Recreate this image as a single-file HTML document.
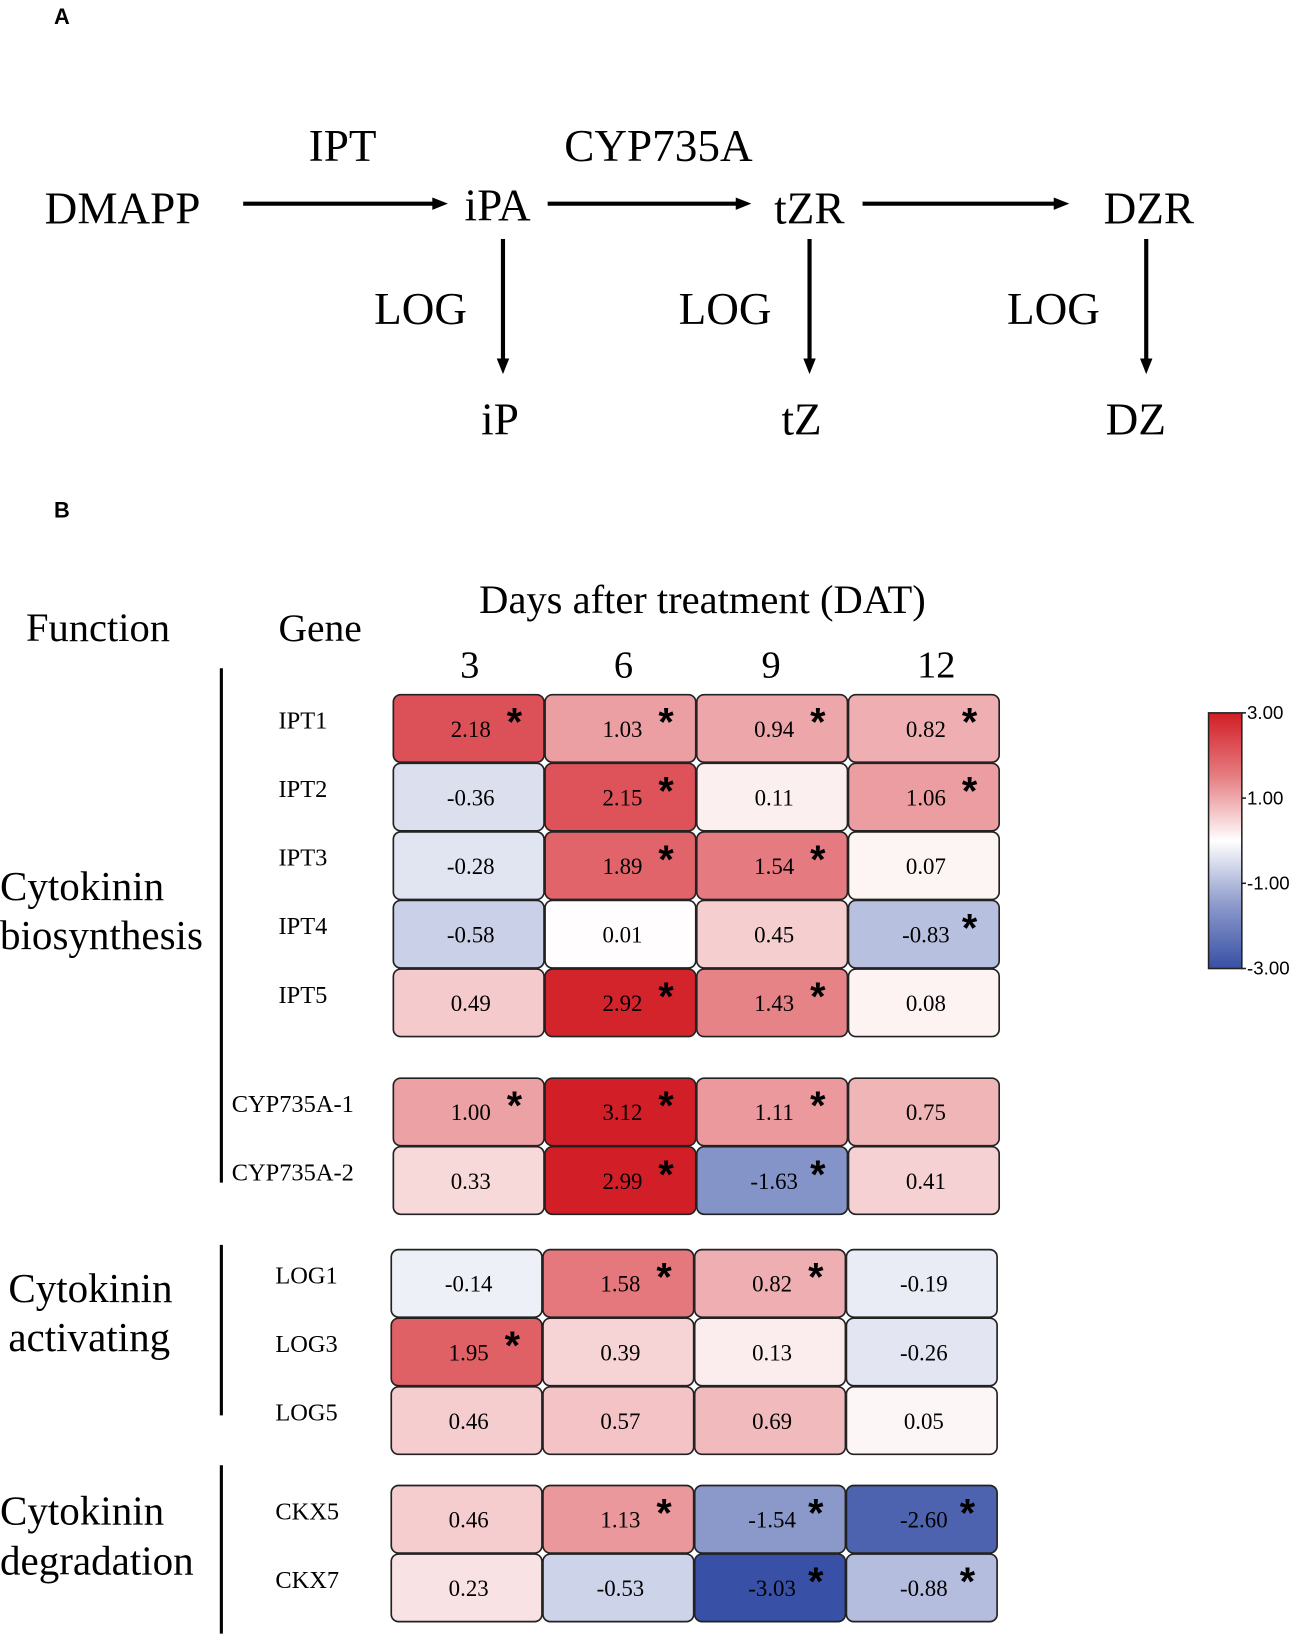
<!DOCTYPE html>
<html><head><meta charset="utf-8"><style>
html,body{margin:0;padding:0;background:#fff;}
svg{display:block;}
.serif{font-family:"Liberation Serif",serif;}
</style></head><body>
<svg id="fig" width="1299" height="1634" viewBox="0 0 1250 1572.4" xmlns="http://www.w3.org/2000/svg">
<defs></defs>
<g class="serif" font-size="43.5" fill="#000">
<text x="52" y="23" font-family="Liberation Sans, sans-serif" font-weight="bold" font-size="21">A</text>
<text x="43" y="215">DMAPP</text>
<text x="297" y="155">IPT</text>
<text x="447" y="212">iPA</text>
<text x="543" y="155">CYP735A</text>
<text x="745" y="215">tZR</text>
<text x="1062" y="215">DZR</text>
<text x="360" y="312">LOG</text>
<text x="653" y="312">LOG</text>
<text x="969" y="312">LOG</text>
<text x="463" y="418">iP</text>
<text x="752" y="418">tZ</text>
<text x="1064" y="418">DZ</text>
<g stroke="#000" stroke-width="4">
<line x1="234" y1="196" x2="420" y2="196"/>
<line x1="527" y1="196" x2="712" y2="196"/>
<line x1="830" y1="196" x2="1018" y2="196"/>
<line x1="484" y1="230" x2="484" y2="348"/>
<line x1="779" y1="230" x2="779" y2="348"/>
<line x1="1103" y1="230" x2="1103" y2="348"/>
</g>
<path d="M416,190 L431,196 L416,202z M708,190 L723,196 L708,202z M1014,190 L1029,196 L1014,202z M478,345 L484,360 L490,345z M773,345 L779,360 L785,345z M1097,345 L1103,360 L1109,345z"/>
</g>
<g class="serif" fill="#000">
<text x="52" y="498" font-family="Liberation Sans, sans-serif" font-weight="bold" font-size="21">B</text>
<text x="25" y="617" font-size="39">Function</text>
<text x="268" y="617" font-size="38">Gene</text>
<text x="676" y="590" font-size="39" text-anchor="middle">Days after treatment (DAT)</text>
<g font-size="39.5">
<text x="0" y="866"><tspan x="0">Cytokinin</tspan><tspan x="0" y="913">biosynthesis</tspan></text>
<text x="8" y="1253"><tspan x="8">Cytokinin</tspan><tspan x="8" y="1300">activating</tspan></text>
<text x="0" y="1467"><tspan x="0">Cytokinin</tspan><tspan x="0" y="1515">degradation</tspan></text>
</g>
<g stroke="#000" stroke-width="3">
<line x1="213" y1="643" x2="213" y2="1138"/>
<line x1="213" y1="1198" x2="213" y2="1362"/>
<line x1="213" y1="1410" x2="213" y2="1572"/>
</g>
<g id="heat"></g>
<g id="cbar"></g>
</g>
</svg>
<script>
const days = ["3","6","9","12"];
const genes = ["IPT1","IPT2","IPT3","IPT4","IPT5","CYP735A-1","CYP735A-2","LOG1","LOG3","LOG5","CKX5","CKX7"];
const values = [
 [2.18,1.03,0.94,0.82],
 [-0.36,2.15,0.11,1.06],
 [-0.28,1.89,1.54,0.07],
 [-0.58,0.01,0.45,-0.83],
 [0.49,2.92,1.43,0.08],
 [1.00,3.12,1.11,0.75],
 [0.33,2.99,-1.63,0.41],
 [-0.14,1.58,0.82,-0.19],
 [1.95,0.39,0.13,-0.26],
 [0.46,0.57,0.69,0.05],
 [0.46,1.13,-1.54,-2.60],
 [0.23,-0.53,-3.03,-0.88]
];
const signif = [
 [1,1,1,1],[0,1,0,1],[0,1,1,0],[0,0,0,1],[0,1,1,0],
 [1,1,1,0],[0,1,1,0],[0,1,1,0],[1,0,0,0],[0,0,0,0],
 [0,1,1,1],[0,0,1,1]
];
const cbarTicks = [3,1,-1,-3];

const NS="http://www.w3.org/2000/svg";
const rowTops=[668,734,800,866,932,1037,1103,1202,1268,1334,1429,1495];
const groupX=[378,378,378,378,378,378,378,376,376,376,376,376];
const geneX=[268,268,268,268,268,223,223,265,265,265,265,265];
const cellW=146, cellH=66;
const colCenters=[452,600,742,901];
function color(v){
  const red=[210,30,38], blue=[56,80,165], w=[255,255,255];
  let t=Math.max(-1,Math.min(1,v/3));
  const c=t>=0?red:blue; t=Math.pow(Math.abs(t),0.8);
  const r=w.map((x,i)=>Math.round(x+(c[i]-x)*t));
  return `rgb(${r[0]},${r[1]},${r[2]})`;
}
function mk(tag,attrs,parent){const e=document.createElementNS(NS,tag);for(const k in attrs)e.setAttribute(k,attrs[k]);parent.appendChild(e);return e;}
const heat=document.getElementById('heat');
days.forEach((d,j)=>{
  const t=mk('text',{x:colCenters[j],y:652,'font-size':37,'text-anchor':'middle'},heat);
  
  
  t.textContent=d;
});
genes.forEach((g,i)=>{
  const y=rowTops[i];
  const lab=mk('text',{x:geneX[i],y:y+33,'font-size':23.5},heat);
  
  
  lab.textContent=g;
  days.forEach((d,j)=>{
    const x=groupX[i]+j*cellW, v=values[i][j];
    const r=mk('rect',{x:x+0.5,y:y+0.5,width:cellW-1,height:cellH-1,rx:7,fill:color(v),stroke:'#222','stroke-width':1.6},heat);
    
    
    const t=mk('text',{x:x+75,y:y+41,'font-size':22,'text-anchor':'middle'},heat);
    
    
    t.textContent=v.toFixed(2);
    if(signif[i][j]){
      const s=mk('text',{x:x+117,y:y+40,'font-size':38,'font-weight':'bold','text-anchor':'middle','font-family':'Liberation Sans, sans-serif'},heat);
      
      
      s.textContent='*';
    }
  });
});
const cb=document.getElementById('cbar');
const gr=mk('linearGradient',{id:'cg',x1:0,y1:0,x2:0,y2:1},document.querySelector('defs'));
[[0,3],[0.25,1.5],[0.5,0],[0.75,-1.5],[1,-3]].forEach(([o,v])=>mk('stop',{offset:o,'stop-color':color(v)},gr));
const cbTop=686, cbBot=932;
const cy=v=>cbTop+(3-v)/6*(cbBot-cbTop);
const bar=mk('rect',{x:1163,y:cbTop,width:32,height:cbBot-cbTop,fill:'url(#cg)',stroke:'#222','stroke-width':1.5},cb);


cbarTicks.forEach(v=>{
  const l=mk('line',{x1:1195,x2:1199,y1:cy(v),y2:cy(v),stroke:'#222','stroke-width':1.5},cb);
  
  
  const t=mk('text',{x:1200,y:cy(v)+6,'font-size':18,'font-family':'Liberation Sans, sans-serif'},cb);
  
  
  t.textContent=v.toFixed(2);
});
</script>
</body></html>
